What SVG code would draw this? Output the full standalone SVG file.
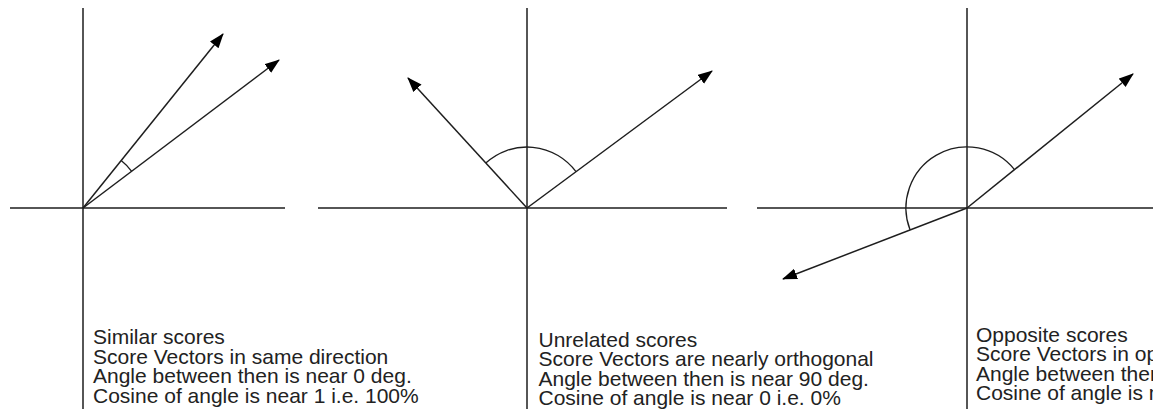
<svg xmlns="http://www.w3.org/2000/svg" width="1153" height="409" viewBox="0 0 1153 409">
<style>
.ax{stroke:#1e1e1e;stroke-width:1.5;fill:none}
.vec{stroke:#1e1e1e;stroke-width:1.5;fill:none;marker-end:url(#ah)}
.arc{stroke:#1e1e1e;stroke-width:1.3;fill:none}
text{font-family:"Liberation Sans",Arial,sans-serif;font-size:21px;fill:#222}
</style>
<defs>
<marker id="ah" markerUnits="userSpaceOnUse" markerWidth="16" markerHeight="12" refX="14" refY="5.5" orient="auto">
<path d="M0,0 L15,5.5 L0,11 z" fill="#000"/>
</marker>
</defs>
<rect width="1153" height="409" fill="#fff"/>
<g id="panel-similar">
<line class="ax" x1="83" y1="8" x2="83" y2="409"/>
<line class="ax" x1="10" y1="208" x2="285" y2="208"/>
<g id="vectors-similar">
<line class="vec" x1="83" y1="208" x2="223" y2="34"/>
<line class="vec" x1="83" y1="208" x2="279" y2="60"/>
</g>
<path class="arc" d="M121.2,160.5 A61,61 0 0 1 131.7,171.3"/>
<text x="93" y="344">Similar scores</text>
<text x="93" y="363.5">Score Vectors in same direction</text>
<text x="93" y="383">Angle between then is near 0 deg.</text>
<text x="93" y="402.5">Cosine of angle is near 1 i.e. 100%</text>
</g>
<g id="panel-unrelated">
<line class="ax" x1="527" y1="8" x2="527" y2="409"/>
<line class="ax" x1="318" y1="208" x2="727" y2="208"/>
<g id="vectors-unrelated">
<line class="vec" x1="527" y1="208" x2="408" y2="78"/>
<line class="vec" x1="527" y1="208" x2="712" y2="71"/>
</g>
<path class="arc" d="M485.8,163 A61,61 0 0 1 576,171.7"/>
<text x="538.5" y="346.5">Unrelated scores</text>
<text x="538.5" y="366">Score Vectors are nearly orthogonal</text>
<text x="538.5" y="385.5">Angle between then is near 90 deg.</text>
<text x="538.5" y="405">Cosine of angle is near 0 i.e. 0%</text>
</g>
<g id="panel-opposite">
<line class="ax" x1="967" y1="8" x2="967" y2="409"/>
<line class="ax" x1="757" y1="208" x2="1153" y2="208"/>
<g id="vectors-opposite">
<line class="vec" x1="967" y1="208" x2="1133" y2="74"/>
<line class="vec" x1="967" y1="208" x2="783" y2="279"/>
</g>
<path class="arc" d="M1014.5,169.7 A61,61 0 0 0 910.1,230"/>
<text x="976" y="341.5">Opposite scores</text>
<text x="976" y="361">Score Vectors in op</text>
<text x="976" y="380.5">Angle between then</text>
<text x="976" y="400">Cosine of angle is n</text>
</g>
</svg>
